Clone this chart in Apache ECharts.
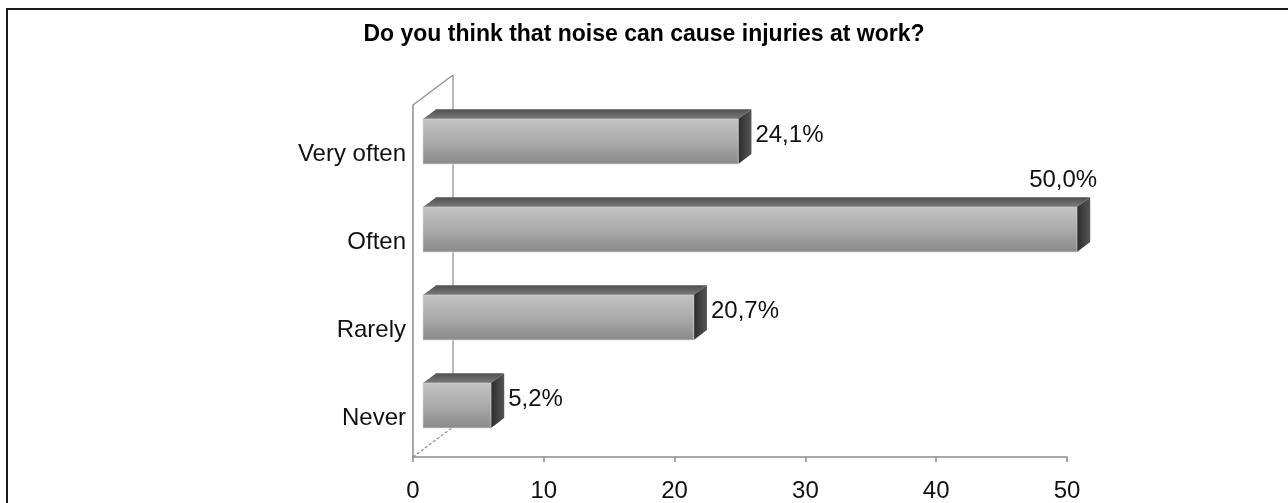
<!DOCTYPE html>
<html>
<head>
<meta charset="utf-8">
<script src="https://cdn.jsdelivr.net/npm/echarts@6/dist/echarts.min.js"></script>
<style>
  * { margin: 0; padding: 0; }
  html, body { width: 1288px; height: 503px; background: #fff; overflow: hidden; }
  #chart { width: 1288px; height: 503px; }
</style>
</head>
<body>
<div id="chart"></div>
<script>
var categories = ['Very often', 'Often', 'Rarely', 'Never'];
var percents = [24.1, 50.0, 20.7, 5.2];
var xTicks = [0, 10, 20, 30, 40, 50];

var FONT = '"Liberation Sans", Arial, sans-serif';
var DEPTH_X = 40, DEPTH_Y = 30;   // 3d wall depth in px

var myChart = echarts.init(document.getElementById('chart'), null, { renderer: 'canvas' });

function fmt(v) {
  return v.toFixed(1).replace('.', ',') + '%';
}

// back wall + floor edges
function renderWall(params, api) {
  var cs = params.coordSys;
  var x0 = cs.x, yTop = cs.y, yBot = cs.y + cs.height;
  var st = { stroke: '#8c8c8c', lineWidth: 1.2 };
  return {
    type: 'group',
    children: [
      { type: 'line', shape: { x1: x0 + DEPTH_X, y1: yTop - DEPTH_Y, x2: x0 + DEPTH_X, y2: yBot - DEPTH_Y }, style: st },
      { type: 'line', shape: { x1: x0, y1: yTop, x2: x0 + DEPTH_X, y2: yTop - DEPTH_Y }, style: st },
      { type: 'line', shape: { x1: x0, y1: yBot, x2: x0 + DEPTH_X, y2: yBot - DEPTH_Y }, style: { stroke: '#8c8c8c', lineWidth: 1.2, lineDash: [3, 2] } }
    ]
  };
}

function renderBar(params, api) {
  var idx = api.value(0);
  var v = api.value(1);
  var p0 = api.coord([0, idx]);
  var p1 = api.coord([v, idx]);
  var band = api.size([0, 1])[1];
  var h = band * 0.51;
  var fx = DEPTH_X * 0.25, fy = -DEPTH_Y * 0.25;
  var bx = DEPTH_X * 0.33, by = -DEPTH_Y * 0.33;
  var x = p0[0] + fx, y = p0[1] + fy - h / 2, w = p1[0] - p0[0];

  var label;
  if (v >= 45) {
    label = { type: 'text', style: { x: x + w + bx + 7, y: y + by - 5, text: fmt(v), textAlign: 'right', textVerticalAlign: 'bottom', font: '24px ' + FONT, fill: '#111' } };
  } else {
    label = { type: 'text', style: { x: x + w + bx + 4, y: y + h / 2 + by / 2 - 1, text: fmt(v), textAlign: 'left', textVerticalAlign: 'middle', font: '24px ' + FONT, fill: '#111' } };
  }

  return {
    type: 'group',
    children: [
      { type: 'polygon', shape: { points: [[x, y], [x + bx, y + by], [x + w + bx, y + by], [x + w, y]] },
        style: { fill: new echarts.graphic.LinearGradient(0, 0, 0, 1, [{ offset: 0, color: '#4e4e4e' }, { offset: 1, color: '#7c7c7c' }]) } },
      { type: 'polygon', shape: { points: [[x + w, y], [x + w + bx, y + by], [x + w + bx, y + h + by], [x + w, y + h]] },
        style: { fill: new echarts.graphic.LinearGradient(0, 0, 1, 0, [{ offset: 0, color: '#2c2c2c' }, { offset: 1, color: '#555555' }]) } },
      { type: 'rect', shape: { x: x, y: y, width: w, height: h },
        style: { fill: new echarts.graphic.LinearGradient(0, 0, 0, 1, [{ offset: 0, color: '#c2c2c2' }, { offset: 0.45, color: '#aeaeae' }, { offset: 1, color: '#8a8a8a' }]),
                 stroke: '#d8d8d8', lineWidth: 0.6 } },
      label
    ]
  };
}

var option = {
  animation: false,
  backgroundColor: '#fff',
  title: {
    text: 'Do you think that noise can cause injuries at work?',
    left: 'center',
    top: 18,
    textStyle: { fontFamily: FONT, fontWeight: 'bold', fontSize: 23, color: '#000' }
  },
  graphic: [
    { type: 'rect', shape: { x: 7, y: 9, width: 1300, height: 600 }, style: { fill: 'none', stroke: '#1a1a1a', lineWidth: 2 }, z: 10 }
  ],
  grid: { left: 413, right: 221, top: 105, bottom: 46, containLabel: false },
  xAxis: {
    type: 'value',
    min: xTicks[0],
    max: xTicks[xTicks.length - 1],
    interval: xTicks[1] - xTicks[0],
    splitLine: { show: false },
    axisLine: { show: true, lineStyle: { color: '#8c8c8c', width: 1.5 } },
    axisTick: { show: true, length: 5, lineStyle: { color: '#8c8c8c', width: 1.5 } },
    axisLabel: { margin: 22, fontFamily: FONT, fontSize: 24, color: '#111' }
  },
  yAxis: {
    type: 'category',
    data: categories,
    inverse: true,
    axisLine: { show: true, lineStyle: { color: '#8c8c8c', width: 1.5 } },
    axisTick: { show: false },
    axisLabel: {
      margin: 7,
      formatter: function (v) { return '{c|' + v + '}'; },
      rich: { c: { fontFamily: FONT, fontSize: 24, color: '#111', padding: [10, 0, 0, 0] } }
    }
  },
  series: [
    { type: 'custom', renderItem: renderWall, data: [[0, 0]], z: 1, silent: true },
    { type: 'custom', renderItem: renderBar, encode: { x: 1, y: 0 },
      data: percents.map(function (v, i) { return [i, v]; }), z: 2 }
  ]
};

myChart.setOption(option);
</script>
</body>
</html>
